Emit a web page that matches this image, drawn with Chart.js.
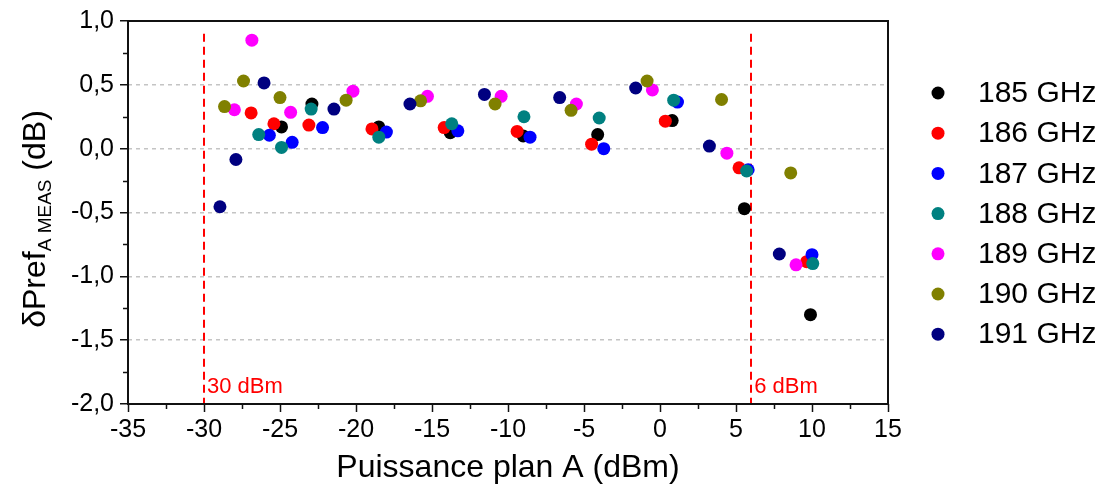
<!DOCTYPE html>
<html>
<head>
<meta charset="utf-8">
<script src="https://cdn.jsdelivr.net/npm/chart.js@4.4.0/dist/chart.umd.min.js"></script>
<style>
  html, body { margin: 0; padding: 0; background: #fff; }
  #wrap { width: 1110px; height: 497px; }
</style>
</head>
<body>
<div id="wrap"><canvas id="myChart" width="1110" height="497"></canvas></div>
<script>
// Series labels and colours (one per frequency)
const seriesLabels = ["185 GHz", "186 GHz", "187 GHz", "188 GHz", "189 GHz", "190 GHz", "191 GHz"];
const seriesColors = ["#000000", "#ff0000", "#0000ff", "#008080", "#ff00ff", "#808000", "#000080"];

// Values: x = Puissance plan A (dBm), y = dPref (dB)
const x185 = [-24.9, -22.9, -18.5, -13.8, -9.0, -4.1, 0.8, 5.55, 9.9];
const y185 = [0.17, 0.35, 0.17, 0.125, 0.10, 0.11, 0.22, -0.47, -1.30];

const x186 = [-26.9, -25.4, -23.1, -18.95, -14.2, -9.4, -4.5, 0.35, 5.2, 9.65];
const y186 = [0.28, 0.195, 0.185, 0.155, 0.165, 0.135, 0.035, 0.215, -0.15, -0.885];

const x187 = [-25.7, -24.2, -22.2, -18.0, -13.3, -8.55, -3.7, 1.15, 5.8, 10.0];
const y187 = [0.105, 0.05, 0.165, 0.13, 0.14, 0.09, 0.0, 0.365, -0.165, -0.83];

const x188 = [-26.4, -24.9, -22.95, -18.5, -13.7, -8.95, -4.0, 0.9, 5.7, 10.05];
const y188 = [0.11, 0.01, 0.31, 0.09, 0.195, 0.25, 0.24, 0.38, -0.175, -0.90];

const x189 = [-28.0, -26.85, -24.3, -20.2, -15.3, -10.45, -5.5, -0.5, 4.4, 8.95];
const y189 = [0.305, 0.85, 0.285, 0.45, 0.41, 0.41, 0.35, 0.46, -0.035, -0.91];

const x190 = [-28.65, -27.4, -25.0, -20.65, -15.75, -10.85, -5.85, -0.85, 4.05, 8.6];
const y190 = [0.33, 0.53, 0.40, 0.38, 0.375, 0.35, 0.30, 0.53, 0.385, -0.19];

const x191 = [-28.95, -27.9, -26.05, -21.45, -16.45, -11.55, -6.6, -1.6, 3.25, 7.85];
const y191 = [-0.455, -0.085, 0.515, 0.31, 0.35, 0.425, 0.40, 0.475, 0.02, -0.825];

const xValues = [x185, x186, x187, x188, x189, x190, x191];
const yValues = [y185, y186, y187, y188, y189, y190, y191];

// Axis ticks
const xTicks = [-35, -30, -25, -20, -15, -10, -5, 0, 5, 10, 15];
const yTicks = [1.0, 0.5, 0.0, -0.5, -1.0, -1.5, -2.0];

// Vertical limit markers
const limitX = [-30, 6];
const limitLabels = ["30 dBm", "6 dBm"];
const limitTop = 0.9;

const FONT = "'Liberation Sans', Arial, Helvetica, sans-serif";
Chart.defaults.font.family = FONT;
Chart.defaults.color = "#000";

const midpoints = (arr) => arr.slice(1).map((v, i) => (v + arr[i]) / 2);

const plotPlugin = {
  id: "plotExtras",
  beforeDatasetsDraw(chart) {
    const { ctx, chartArea, scales } = chart;
    ctx.save();
    ctx.strokeStyle = "#ff0000";
    ctx.lineWidth = 2;
    ctx.setLineDash([8, 5]);
    limitX.forEach((v) => {
      const px = Math.round(scales.x.getPixelForValue(v));
      ctx.beginPath();
      ctx.moveTo(px, scales.y.getPixelForValue(limitTop));
      ctx.lineTo(px, chartArea.bottom);
      ctx.stroke();
    });
    ctx.setLineDash([]);
    ctx.fillStyle = "#ff0000";
    ctx.font = "22px " + FONT;
    ctx.textBaseline = "alphabetic";
    ctx.textAlign = "left";
    limitX.forEach((v, i) => {
      ctx.fillText(limitLabels[i], scales.x.getPixelForValue(v) + 3, chartArea.bottom - 11);
    });
    ctx.restore();
  },
  afterDraw(chart) {
    const { ctx, chartArea, scales } = chart;
    const { left, right, top, bottom } = chartArea;
    ctx.save();

    // frame
    ctx.strokeStyle = "#111";
    ctx.lineWidth = 2;
    ctx.strokeRect(left, top, right - left, bottom - top);

    // minor ticks
    ctx.lineWidth = 1.5;
    ctx.beginPath();
    midpoints(xTicks).forEach((v) => {
      const px = Math.round(scales.x.getPixelForValue(v)) + 0.5;
      ctx.moveTo(px, bottom);
      ctx.lineTo(px, bottom + 5);
    });
    midpoints(yTicks).forEach((v) => {
      const py = Math.round(scales.y.getPixelForValue(v)) + 0.5;
      ctx.moveTo(left, py);
      ctx.lineTo(left - 5, py);
    });
    ctx.stroke();

    // x axis title
    ctx.fillStyle = "#000";
    ctx.font = "32px " + FONT;
    ctx.textAlign = "center";
    ctx.textBaseline = "alphabetic";
    ctx.fillText("Puissance plan A (dBm)", (left + right) / 2, 477);

    // y axis title (rotated, with subscript)
    ctx.translate(45, 219);
    ctx.rotate(-Math.PI / 2);
    ctx.textAlign = "left";
    const mainFont = "32px " + FONT;
    const subFont = "19px " + FONT;
    ctx.font = mainFont;
    const w1 = ctx.measureText("\u03b4Pref").width;
    const w3 = ctx.measureText(" (dB)").width;
    ctx.font = subFont;
    const w2 = ctx.measureText("A MEAS").width;
    let x0 = -(w1 + w2 + w3) / 2;
    ctx.font = mainFont;
    ctx.fillText("\u03b4Pref", x0, 0);
    ctx.font = subFont;
    ctx.fillText("A MEAS", x0 + w1, 6);
    ctx.font = mainFont;
    ctx.fillText(" (dB)", x0 + w1 + w2, 0);
    ctx.setTransform(1, 0, 0, 1, 0, 0);

    // legend
    ctx.font = "30px " + FONT;
    ctx.textBaseline = "middle";
    chart.data.datasets.forEach((ds, i) => {
      const cy = 93 + i * 40.2;
      ctx.fillStyle = ds.backgroundColor;
      ctx.beginPath();
      ctx.arc(938, cy, 6.5, 0, Math.PI * 2);
      ctx.fill();
      ctx.fillStyle = "#000";
      ctx.fillText(ds.label, 978, cy + 1);
    });
    ctx.restore();
  },
};

const ctx = document.getElementById("myChart");
new Chart(ctx, {
  type: "scatter",
  data: {
    datasets: seriesLabels.map((label, i) => ({
      label,
      data: xValues[i].map((x, j) => ({ x, y: yValues[i][j] })),
      backgroundColor: seriesColors[i],
      borderColor: seriesColors[i],
      borderWidth: 0,
      pointRadius: 6.5,
      pointHoverRadius: 6.5,
      order: seriesLabels.length - i, // later series drawn on top
    })),
  },
  options: {
    responsive: false,
    animation: false,
    devicePixelRatio: 1,
    layout: { padding: { top: 20, right: 222, left: 0, bottom: 0 } },
    plugins: { legend: { display: false }, tooltip: { enabled: false } },
    scales: {
      x: {
        type: "linear",
        min: -35,
        max: 15,
        afterBuildTicks: (scale) => {
          scale.ticks = xTicks.map((v) => ({ value: v }));
        },
        afterFit: (scale) => {
          scale.height = 93;
        },
        ticks: {
          font: { size: 25 },
          color: "#000",
          padding: 3,
          maxRotation: 0,
          autoSkip: false,
        },
        grid: {
          drawOnChartArea: false,
          tickLength: 8,
          tickColor: "#111",
          tickWidth: 1.5,
        },
        border: { display: false },
      },
      y: {
        min: -2,
        max: 1,
        afterBuildTicks: (scale) => {
          scale.ticks = yTicks.map((v) => ({ value: v }));
        },
        afterFit: (scale) => {
          scale.width = 128;
        },
        ticks: {
          font: { size: 25 },
          color: "#000",
          padding: 6,
          callback: (value) => value.toFixed(1).replace(".", ","),
        },
        grid: {
          color: (c) =>
            c.tick && c.tick.value < 0.99 && c.tick.value > -1.99 ? "#c4c4c4" : "transparent",
          lineWidth: 1.5,
          tickLength: 8,
          tickColor: "#111",
          tickWidth: 1.5,
        },
        border: { display: false, dash: [4, 4] },
      },
    },
  },
  plugins: [plotPlugin],
});
</script>
</body>
</html>
